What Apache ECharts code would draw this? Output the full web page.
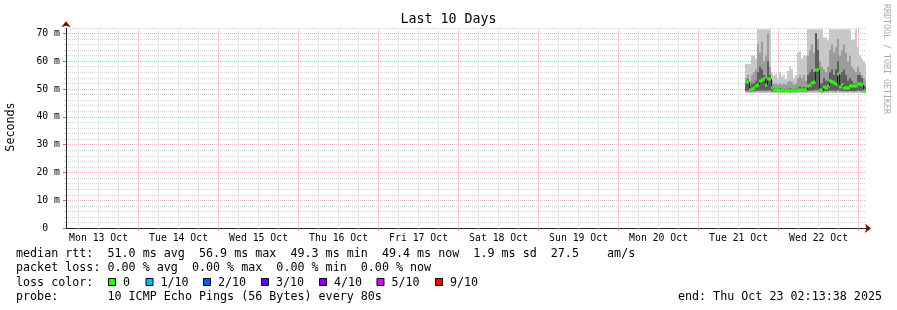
<!DOCTYPE html>
<html><head><meta charset="utf-8">
<script src="https://cdn.jsdelivr.net/npm/echarts@6/dist/echarts.min.js"></script>
<style>html,body{margin:0;padding:0;background:#fff}#c{width:897px;height:310px}</style>
</head><body><div id="c"></div>
<script>
const FONT = '"DejaVu Sans Mono", monospace';
// x values: hours since Mon 13 Oct 2025 00:00
const STEP = 0.6;
const xMin = 2.2272, xMax = 242.2272;
const yMax = 71.8;
const times = [205.9, 206.5, 207.1, 207.7, 208.3, 208.9, 209.5, 210.1, 210.7, 211.3,
  211.9, 212.5, 213.1, 213.7, 214.3, 214.9, 215.5, 216.1, 216.7, 217.3,
  217.9, 218.5, 219.1, 219.7, 220.3, 220.9, 221.5, 222.1, 222.7, 223.3,
  223.9, 224.5, 225.1, 225.7, 226.3, 226.9, 227.5, 228.1, 228.7, 229.3,
  229.9, 230.5, 231.1, 231.7, 232.3, 232.9, 233.5, 234.1, 234.7, 235.3,
  235.9, 236.5, 237.1, 237.7, 238.3, 238.9, 239.5, 240.1, 240.7, 241.3, 241.9];
const median = [52.5, 52.5, 49.5, 50.0, 50.2, 51.0, 51.3, 53.0, 53.2, 53.7,
  51.3, 53.7, 53.5, 50.3, 49.6, 49.5, 49.6, 49.4, 49.5, 49.3,
  49.5, 49.6, 49.4, 49.5, 49.3, 49.6, 49.5, 49.8, 49.5, 49.6,
  49.5, 51.0, 51.5, 52.3, 52.5, 56.9, 56.9, 49.5, 49.3, 50.8,
  50.5, 51.0, 52.9, 52.5, 52.3, 51.7, 55.3, 50.8, 51.5, 50.5,
  50.2, 50.5, 51.1, 51.1, 51.1, 51.1, 51.9, 51.9, 51.5, 49.3, 49.3];
const pingMin = [48.6, 48.5, 48.5, 48.6, 48.5, 48.6, 48.7, 48.5, 48.6, 48.6,
  48.5, 48.6, 48.7, 48.5, 48.4, 48.5, 48.5, 48.4, 48.5, 48.4,
  48.5, 48.5, 48.4, 48.5, 48.4, 48.5, 48.5, 48.6, 48.5, 48.5,
  48.5, 48.6, 48.7, 48.6, 48.6, 48.7, 48.6, 48.5, 48.4, 48.6,
  48.6, 48.5, 48.7, 48.6, 48.6, 48.5, 48.7, 48.6, 48.6, 48.5,
  48.6, 48.5, 48.6, 48.5, 48.5, 48.6, 48.6, 48.7, 48.6, 48.5, 48.5];
const pingMax = [59, 59, 59, 62, 62, 61, 71.5, 71.5, 71.5, 71.5,
  71.5, 71.5, 71.5, 56, 55, 55.5, 54, 56, 54.5, 55,
  53.5, 56.5, 58, 57, 54, 55, 63, 63.5, 61, 62,
  62, 71.5, 71.5, 71.5, 71.5, 71.5, 71.5, 71.5, 71.5, 68.5,
  68.5, 67.5, 71.5, 71.5, 71.5, 71.5, 71.5, 71.5, 71.5, 71.5,
  71.5, 71.5, 71.5, 67.8, 67.8, 71.5, 65, 62, 61, 60, 59];
const midLow = [49.0, 49.0, 48.9, 49.0, 48.9, 49.0, 49.1, 49.0, 49.1, 49.0,
  49.0, 49.1, 49.1, 48.9, 48.9, 48.9, 48.9, 48.8, 48.9, 48.8,
  48.9, 48.9, 48.8, 48.9, 48.8, 48.9, 48.9, 49.0, 48.9, 48.9,
  48.9, 49.0, 49.1, 49.1, 49.1, 49.2, 49.1, 48.9, 48.8, 49.0,
  49.0, 49.0, 49.1, 49.1, 49.1, 49.0, 49.2, 49.0, 49.1, 49.0,
  49.0, 49.0, 49.1, 49.0, 49.0, 49.0, 49.1, 49.1, 49.0, 48.9, 48.9];
const midHigh = [54, 55, 53, 55, 56, 57, 66, 63, 67, 60,
  62, 70, 58, 53, 52, 52, 51.5, 52, 51.5, 52,
  51.5, 52.5, 53, 52.5, 51.5, 52, 54, 55, 54, 55,
  53, 62, 64, 66, 63, 70, 68, 60, 58, 57,
  56, 58, 64, 66, 63, 65, 68, 62, 64, 66,
  63, 60, 62, 58, 57, 56, 58, 56, 55, 54, 53];
const innerLow = [49.4, 49.4, 49.2, 49.3, 49.3, 49.4, 49.5, 49.5, 49.6, 49.5,
  49.4, 49.6, 49.6, 49.2, 49.2, 49.2, 49.2, 49.1, 49.2, 49.1,
  49.2, 49.2, 49.1, 49.2, 49.1, 49.2, 49.2, 49.3, 49.2, 49.2,
  49.2, 49.4, 49.5, 49.5, 49.6, 49.8, 49.6, 49.2, 49.1, 49.3,
  49.3, 49.4, 49.5, 49.5, 49.5, 49.4, 49.6, 49.4, 49.4, 49.3,
  49.3, 49.3, 49.4, 49.3, 49.3, 49.4, 49.5, 49.5, 49.4, 49.1, 49.1];
const innerHigh = [53, 53.5, 51, 52, 52, 53, 56, 58, 57, 55,
  54, 60, 55, 51, 50.3, 50.2, 50.2, 50.3, 50.2, 50,
  50.2, 50.4, 50.3, 50.2, 50, 50.3, 50.5, 51, 50.5, 50.8,
  50.5, 55, 56, 57, 56, 70, 64, 52, 52, 54,
  53, 53, 56, 57, 55, 57, 60, 55, 56, 57,
  55, 53, 54, 53, 52, 52, 55, 55, 54, 51, 51];

const sixHourTicks = [6, 12, 18, 24, 30, 36, 42, 48, 54, 60, 66, 72, 78, 84, 90, 96, 102, 108, 114, 120,
  126, 132, 138, 144, 150, 156, 162, 168, 174, 180, 186, 192, 198, 204, 210, 216, 222, 228, 234, 240];
const midnightTicks = [24, 48, 72, 96, 120, 144, 168, 192, 216, 240];
const dayLabelHours = [12, 36, 60, 84, 108, 132, 156, 180, 204, 228];
const dayLabels = ['Mon 13 Oct', 'Tue 14 Oct', 'Wed 15 Oct', 'Thu 16 Oct', 'Fri 17 Oct',
  'Sat 18 Oct', 'Sun 19 Oct', 'Mon 20 Oct', 'Tue 21 Oct', 'Wed 22 Oct'];
const yMajorTicks = [0, 10, 20, 30, 40, 50, 60, 70];

const summaryLines = [
  'median rtt:  51.0 ms avg  56.9 ms max  49.3 ms min  49.4 ms now  1.9 ms sd  27.5    am/s',
  'packet loss: 0.00 % avg  0.00 % max  0.00 % min  0.00 % now',
  'loss color:',
  'probe:       10 ICMP Echo Pings (56 Bytes) every 80s'
];
const endText = 'end: Thu Oct 23 02:13:38 2025';
const lossLabels = ['0', '1/10', '2/10', '3/10', '4/10', '5/10', '9/10'];
const lossColors = ['#26ff00', '#00b8ff', '#0059ff', '#5e00ff', '#7e00ff', '#dd00ff', '#ff0000'];
const lossBoxX = [108, 145.5, 203, 261, 319, 376.5, 435];

const GRID_GRAY = '#d2d2d2';
const GRID_RED = '#f4a8a8';

function bandSeries(name, lo, hi, color, z) {
  return {
    name, type: 'custom', xAxisIndex: 0, yAxisIndex: 0, clip: true, z, silent: true,
    encode: { x: 0, y: [1, 2] },
    data: times.map((t, i) => [t, lo[i], hi[i]]),
    renderItem: (p, api) => {
      const a = api.coord([api.value(0), api.value(2)]);
      const b = api.coord([api.value(0) + STEP, api.value(1)]);
      const x0 = Math.round(a[0]), x1 = Math.round(b[0]);
      return { type: 'rect', shape: { x: x0, y: a[1], width: x1 - x0, height: b[1] - a[1] }, style: { fill: color } };
    }
  };
}

const medianSeries = {
  name: 'median', type: 'custom', xAxisIndex: 0, yAxisIndex: 0, clip: true, z: 10, silent: true,
  encode: { x: 0, y: 1 },
  data: times.map((t, i) => [t, median[i], i > 0 ? median[i - 1] : median[i]]),
  renderItem: (p, api) => {
    const a = api.coord([api.value(0), api.value(1)]);
    const b = api.coord([api.value(0) + STEP, api.value(1)]);
    const pv = api.coord([api.value(0), api.value(2)]);
    const x0 = Math.round(a[0]), x1 = Math.round(b[0]);
    return { type: 'group', children: [
      { type: 'line', shape: { x1: x0 + 0.5, y1: pv[1], x2: x0 + 0.5, y2: a[1] }, style: { stroke: '#202020', lineWidth: 1 } },
      { type: 'rect', shape: { x: x0, y: Math.round(a[1]) - 1.5, width: x1 - x0 + 1, height: 3 }, style: { fill: lossColors[0] } }
    ] };
  }
};

const graphics = [];
summaryLines.forEach((s, i) => {
  graphics.push({ type: 'text', x: 16, y: 254.3 + i * 14.1, style: { text: s, fontFamily: FONT, fontSize: 11.7, fill: '#000', verticalAlign: 'middle', align: 'left' } });
});
graphics.push({ type: 'text', x: 882, y: 296.6, style: { text: endText, fontFamily: FONT, fontSize: 11.7, fill: '#000', verticalAlign: 'middle', align: 'right' } });
lossLabels.forEach((l, i) => {
  graphics.push({ type: 'rect', shape: { x: lossBoxX[i] + 0.5, y: 278.5, width: 7, height: 7 }, style: { fill: lossColors[i], stroke: '#000', lineWidth: 1 } });
  graphics.push({ type: 'text', x: lossBoxX[i] + 15, y: 282.5, style: { text: l, fontFamily: FONT, fontSize: 11.7, fill: '#000', verticalAlign: 'middle', align: 'left' } });
});
graphics.push({ type: 'text', x: 886, y: 4, rotation: -Math.PI / 2, style: { text: 'RRDTOOL / TOBI OETIKER', fontFamily: FONT, fontSize: 8.3, fill: '#aaaaaa', verticalAlign: 'middle', align: 'left' } });
graphics.push({ type: 'text', x: 11, y: 127, rotation: Math.PI / 2, style: { text: 'Seconds', fontFamily: FONT, fontSize: 11.7, fill: '#000', verticalAlign: 'middle', align: 'center' } });

const chart = echarts.init(document.getElementById('c'));
chart.setOption({
  backgroundColor: '#fff',
  animation: false,
  title: { text: 'Last 10 Days', left: 'center', top: 13, padding: 0,
    textStyle: { fontFamily: FONT, fontSize: 13.3, fontWeight: 'normal', color: '#000' } },
  grid: { left: 66, right: 31, top: 28.3, bottom: 81.7 },
  xAxis: [
    { type: 'value', min: xMin, max: xMax, position: 'bottom',
      axisLine: { show: true, lineStyle: { color: '#7f0000', width: 1 }, symbol: ['none', 'arrow'], symbolSize: [7, 6], symbolOffset: [0, 5] },
      axisTick: { show: true, customValues: sixHourTicks, length: 2, inside: false, lineStyle: { color: GRID_GRAY } },
      axisLabel: { show: true, customValues: dayLabelHours, margin: 5, fontFamily: FONT, fontSize: 9.8, color: '#000',
        formatter: v => { const i = dayLabelHours.indexOf(Math.round(v)); return i >= 0 ? dayLabels[i] : ''; } },
      splitLine: { show: true, lineStyle: { color: GRID_GRAY, type: [1, 1], width: 1 } }
    },
    { type: 'value', min: xMin, max: xMax, position: 'bottom',
      axisLine: { show: true, lineStyle: { color: '#1e2a26', width: 1 } },
      axisTick: { show: true, customValues: midnightTicks, length: 2, lineStyle: { color: '#e06060' } },
      axisLabel: { show: false },
      splitLine: { show: true, lineStyle: { color: GRID_RED, type: [1, 1], width: 1 } }
    }
  ],
  yAxis: [
    { type: 'value', min: 0, max: yMax, interval: 2, position: 'left',
      axisLine: { show: true, lineStyle: { color: '#7f0000', width: 1 }, symbol: ['none', 'arrow'], symbolSize: [7, 6], symbolOffset: [0, 7] },
      axisTick: { show: true, length: 2, lineStyle: { color: GRID_GRAY } },
      axisLabel: { show: false },
      splitLine: { show: true, lineStyle: { color: GRID_GRAY, type: [1, 1], width: 1 } }
    },
    { type: 'value', min: 0, max: yMax, position: 'left',
      axisLine: { show: true, lineStyle: { color: '#1e2a26', width: 1 } },
      axisTick: { show: true, customValues: yMajorTicks, length: 3, lineStyle: { color: '#e06060' } },
      axisLabel: { show: true, customValues: yMajorTicks, margin: 6, fontFamily: FONT, fontSize: 9.8, color: '#000',
        formatter: v => (v === 0 ? '0  ' : v + ' m') },
      splitLine: { show: true, lineStyle: { color: GRID_RED, type: [1, 1], width: 1 } }
    }
  ],
  series: [
    bandSeries('smoke outer', pingMin, pingMax, '#c8c8c8', 2),
    bandSeries('smoke middle', midLow, midHigh, '#9c9c9c', 3),
    bandSeries('smoke inner', innerLow, innerHigh, '#5e5e5e', 4),
    medianSeries
  ],
  graphic: graphics
});
</script></body></html>
